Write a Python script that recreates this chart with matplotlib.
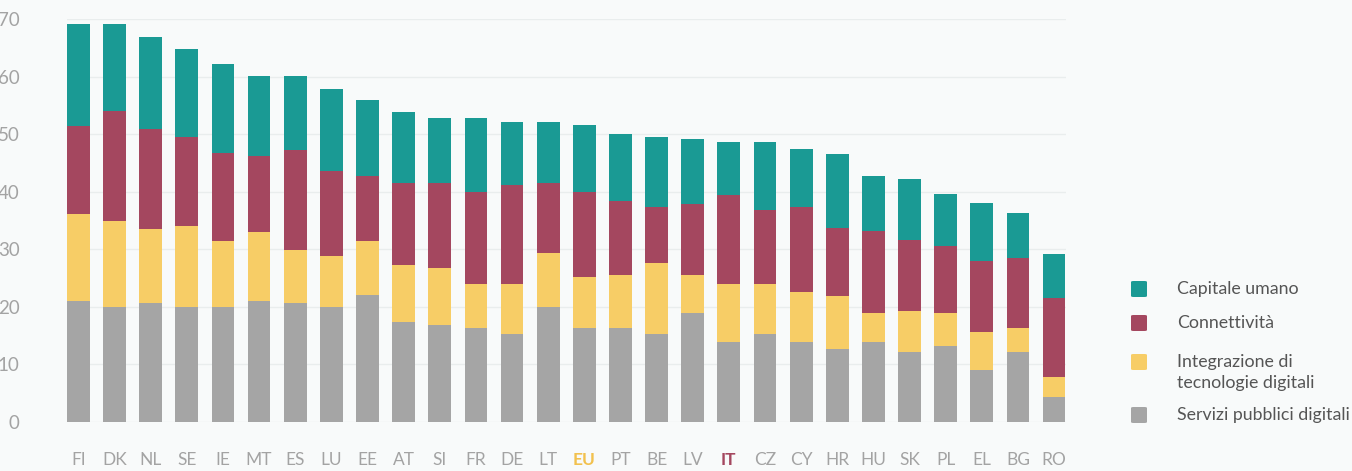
import matplotlib
matplotlib.use("Agg")
import matplotlib.pyplot as plt
from matplotlib.patches import FancyBboxPatch
import numpy as np

countries = ["FI", "DK", "NL", "SE", "IE", "MT", "ES", "LU", "EE", "AT", "SI", "FR", "DE", "LT",
             "EU", "PT", "BE", "LV", "IT", "CZ", "CY", "HR", "HU", "SK", "PL", "EL", "BG", "RO"]
servizi = [21.0, 20.0, 20.6, 20.0, 20.0, 21.0, 20.6, 20.0, 22.1, 17.4, 16.9, 16.4, 15.3, 20.0,
           16.4, 16.4, 15.3, 19.0, 13.8, 15.3, 13.8, 12.7, 13.8, 12.2, 13.2, 9.0, 12.2, 4.3]
integrazione = [15.1, 15.0, 12.9, 14.0, 11.4, 12.0, 9.3, 8.8, 9.3, 9.8, 9.8, 7.6, 8.7, 9.3,
                8.7, 9.2, 12.4, 6.6, 10.2, 8.7, 8.7, 9.2, 5.1, 7.1, 5.7, 6.7, 4.1, 3.5]
connettivita = [15.4, 19.1, 17.5, 15.5, 15.4, 13.3, 17.4, 14.8, 11.3, 14.3, 14.8, 16.0, 17.1, 12.2,
                14.9, 12.8, 9.6, 12.3, 15.5, 12.8, 14.8, 11.8, 14.3, 12.4, 11.7, 12.2, 12.2, 13.8]
capitale = [17.6, 15.0, 15.9, 15.3, 15.4, 13.8, 12.8, 14.3, 13.2, 12.3, 11.3, 12.8, 11.1, 10.7,
            11.7, 11.7, 12.3, 11.2, 9.1, 11.8, 10.2, 12.8, 9.6, 10.6, 9.0, 10.2, 7.9, 7.6]
yticks = [0, 10, 20, 30, 40, 50, 60, 70]
legend_labels = ["Capitale umano", "Connettività", "Integrazione di\ntecnologie digitali",
                 "Servizi pubblici digitali"]

c_teal = "#1A9A94"
c_red = "#A4475F"
c_yellow = "#F7CD66"
c_gray = "#A5A5A5"
bg = "#F8FAFA"
txt = "#A3A3A3"

plt.rcParams['font.family'] = ['Lato', 'DejaVu Sans']

fig = plt.figure(figsize=(13.52, 4.71), dpi=100, facecolor=bg)
W, H = 1352, 471
left, right = 67 / W, 1065.5 / W
top, bottom = 1 - 19.3 / H, 1 - 421.8 / H
ax = fig.add_axes([left, bottom, right - left, top - bottom], facecolor=bg)

x = np.arange(len(countries))
w = 0.63
s1 = np.array(servizi)
s2 = s1 + np.array(integrazione)
s3 = s2 + np.array(connettivita)
ax.bar(x, servizi, width=w, color=c_gray, zorder=3)
ax.bar(x, integrazione, width=w, bottom=s1, color=c_yellow, zorder=3)
ax.bar(x, connettivita, width=w, bottom=s2, color=c_red, zorder=3)
ax.bar(x, capitale, width=w, bottom=s3, color=c_teal, zorder=3)

ax.set_xlim(-w / 2, len(countries) - 1 + w / 2)
ax.set_ylim(0, 70)
ax.set_yticks(yticks)
ax.set_yticklabels([str(v) for v in yticks])
ax.grid(axis='y', color="#E9EDED", linewidth=1, zorder=0)
ax.set_axisbelow(True)
for sp in ax.spines.values():
    sp.set_visible(False)
ax.tick_params(axis='y', length=0, pad=34, labelsize=13.5, labelcolor=txt)
ax.tick_params(axis='x', length=0, pad=22, labelsize=12.5, labelcolor=txt)
ax.set_xticks(x)
ax.set_xticklabels(countries)
for lab in ax.get_xticklabels():
    if lab.get_text() == "EU":
        lab.set_color("#F2C14E")
        lab.set_fontweight("bold")
    elif lab.get_text() == "IT":
        lab.set_color(c_red)
        lab.set_fontweight("bold")

# legend
leg_colors = [c_teal, c_red, c_yellow, c_gray]
sq_y = [289, 323, 362, 415]
txt_y = [289, 323, 372.5, 415]
for col, sy, ty, lab in zip(leg_colors, sq_y, txt_y, legend_labels):
    sz = 16
    fig.patches.append(FancyBboxPatch(((1131) / W, 1 - (sy + sz / 2) / H), sz / W, sz / H,
                                      boxstyle="round,pad=0,rounding_size=0.002",
                                      transform=fig.transFigure, facecolor=col,
                                      edgecolor='none', figure=fig))
    fig.text(1177 / W, 1 - ty / H, lab, ha='left', va='center', fontsize=12.8,
             color="#555555", linespacing=1.35)

fig.savefig("out.png", dpi=100, facecolor=bg)
